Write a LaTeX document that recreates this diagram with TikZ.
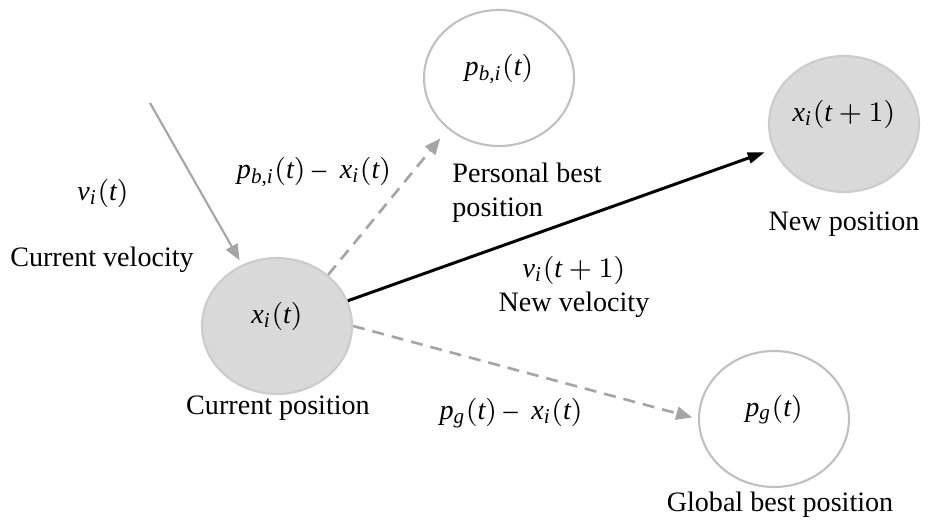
\documentclass[tikz,border=0pt]{standalone}
\usepackage{fontspec}
\setmainfont{Liberation Serif}
\usepackage[italic]{mathastext}
\usepackage{tikz}
\usetikzlibrary{shapes.geometric, arrows.meta, positioning}
\definecolor{myGray}{RGB}{165,165,165}
\definecolor{myRim}{RGB}{192,192,192}
\definecolor{myFill}{RGB}{217,217,217}

\begin{document}
\begin{tikzpicture}[font=\fontsize{8}{9.6}\selectfont,
    particle/.style={ellipse, draw=myRim, line width=0.6pt, minimum width=1.5cm, minimum height=1.36cm, inner sep=0pt, text height=6pt, text depth=7.5pt},
    filled/.style={particle, fill=myFill, draw=myFill!85!gray},
    dashedarrow/.style={-{Triangle[length=1.6mm, width=1.3mm]}, myGray, line width=0.75pt, dash pattern=on 1.2mm off 0.8mm}]
			\useasboundingbox (0,0) rectangle (9.33,5.23);
			% Particles
			\node[filled] (current) at (2.77,1.97) {$x_i(t)$};
			\node[particle] (pbest) at (4.99,4.45) {$p_{b,i}(t)$};
			\node[filled] (newpos) at (8.44,3.99) {$x_i(t+1)$};
			\node[particle] (gbest) at (7.74,1.04) {$p_g(t)$};
			% Labels
			\node (vlabel) at (1.03,3.30) {$v_i(t)$};
			\node (vtext) at (1.02,2.63) {Current velocity};
			\node (currenttext) at (2.78,1.15) {Current position};
			\node (pdiff) at (3.14,3.51) {$p_{b,i}(t) - \ x_i(t)$};
			\node[anchor=west, align=left] (pbesttext) at (4.40,3.30) {Personal best\\position};
			\node[align=center] (newvel) at (5.74,2.36) {$v_i(t+1)$\\New velocity};
			\node (newpostext) at (8.44,2.99) {New position};
			\node (gdiff) at (5.11,1.10) {$p_g(t) - \ x_i(t)$};
			\node (gbesttext) at (7.80,0.18) {Global best position};
			% Current velocity
			\coordinate (velstart) at (1.50,4.20);
			\draw[-{Triangle[length=1.6mm, width=1.3mm]}, myGray, line width=0.6pt, shorten >=0.5mm] (velstart) -- (current);
			% Pulls towards the best positions
			\draw[dashedarrow, shorten >=1.2mm] (current.45) -- (pbest.225);
			\draw[dashedarrow, shorten >=0.6mm] (current.east) -- (gbest.west);
			% New velocity
			\draw[-{Triangle[length=1.7mm, width=1.1mm]}, black, line width=0.85pt, shorten >=0.9mm] (current) -- (newpos);
		\end{tikzpicture}
\end{document}
